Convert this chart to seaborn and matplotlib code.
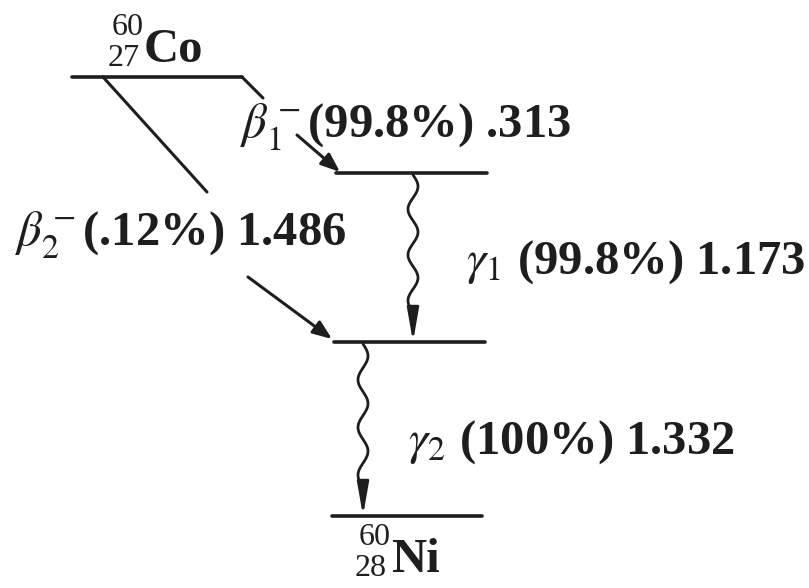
import numpy as np
import pandas as pd
import matplotlib
matplotlib.use("Agg")
import matplotlib.pyplot as plt
from matplotlib.patches import FancyArrowPatch
import seaborn as sns

# 60Co -> 60Ni decay scheme (energies in MeV)
parent = ["Co", "60", "27"]
daughter = ["Ni", "60", "28"]
beta_names = [r"\beta_1^-", r"\beta_2^-"]
beta_branch = ["99.8%", ".12%"]
beta_energy = [".313", "1.486"]
gamma_names = [r"\gamma_1", r"\gamma_2"]
gamma_branch = ["99.8%", "100%"]
gamma_energy = ["1.173", "1.332"]

# ---- diagram layout (canvas units, y grows downward) ----
level_names = ["parent", "excited2", "excited1", "ground"]
level_y = [77, 173, 342, 516]
level_x0 = [72, 336, 334, 332]
level_x1 = [242, 487, 485, 482]

sns.set_theme(style="white")
plt.rcParams["mathtext.fontset"] = "stix"
plt.rcParams["font.family"] = ["Liberation Serif", "DejaVu Serif"]

fig = plt.figure(figsize=(8.09, 5.88), dpi=100)
ax = fig.add_axes([0, 0, 1, 1])
ink = "#1e1e1e"

# energy levels
levels = pd.DataFrame({
    "x": level_x0 + level_x1,
    "y": level_y + level_y,
    "level": level_names + level_names,
})
sns.lineplot(data=levels, x="x", y="y", units="level", estimator=None,
             sort=False, color=ink, lw=2.6, ax=ax, legend=False)

# bend at the right end of the parent level
ax.plot([level_x1[0], 263], [level_y[0], 98], color=ink, lw=2.2)
# beta-2 branch leaves the parent level, broken by its label
ax.plot([103, 207], [level_y[0], 192], color=ink, lw=2.2)


def arrow(p0, p1, hl, hw, lw=2.2):
    ax.add_patch(FancyArrowPatch(
        p0, p1, arrowstyle=f"-|>,head_length={hl},head_width={hw}",
        mutation_scale=10, shrinkA=0, shrinkB=0, color=ink, lw=lw))


# beta arrows
arrow((297, 135), (level_x0[1] + 4, level_y[1] - 1), 1.15, 0.45)
arrow((248, 277), (level_x0[2] - 2, level_y[2] - 3), 1.15, 0.45)


# wavy gamma transitions
def gamma(x, y_top, y_bottom, wave_end, periods, amp=5.0):
    t = np.linspace(y_top, wave_end, 300)
    xs = x + amp * np.sin(2 * np.pi * periods * (t - y_top) / (wave_end - y_top))
    ax.plot(xs, t, color=ink, lw=2.0)
    arrow((x, wave_end), (x, y_bottom), 2.0, 0.35, lw=2.0)


gamma(413, level_y[1] + 2, level_y[2], 312, 3.0)
gamma(363, level_y[2] + 2, level_y[3], 487, 3.0)

fs = 35
kw = dict(fontsize=fs, fontweight="bold", color=ink, va="baseline", ha="left")
iso = dict(fontsize=23, color=ink, va="baseline", ha="left")


def nuclide(sym, mass, charge, x, y):
    ax.text(x + 4, y - 27, mass, **iso)
    ax.text(x, y + 4, charge, **iso)
    ax.text(x + 36, y, sym, **kw)


nuclide(parent[0], parent[1], parent[2], 108, 62)
nuclide(daughter[0], daughter[1], daughter[2], 355, 572)

ax.text(240, 138, f"${beta_names[0]}$({beta_branch[0]}) {beta_energy[0]}", **kw)
ax.text(15, 246, f"${beta_names[1]}$({beta_branch[1]}) {beta_energy[1]}", **kw)
ax.text(466, 274, f"${gamma_names[0]}$ ({gamma_branch[0]}) {gamma_energy[0]}", **kw)
ax.text(408, 454, f"${gamma_names[1]}$ ({gamma_branch[1]}) {gamma_energy[1]}", **kw)

ax.set_xlim(0, 809)
ax.set_ylim(588, 0)
ax.set_axis_off()
fig.savefig("out.png", dpi=100, facecolor="white")
